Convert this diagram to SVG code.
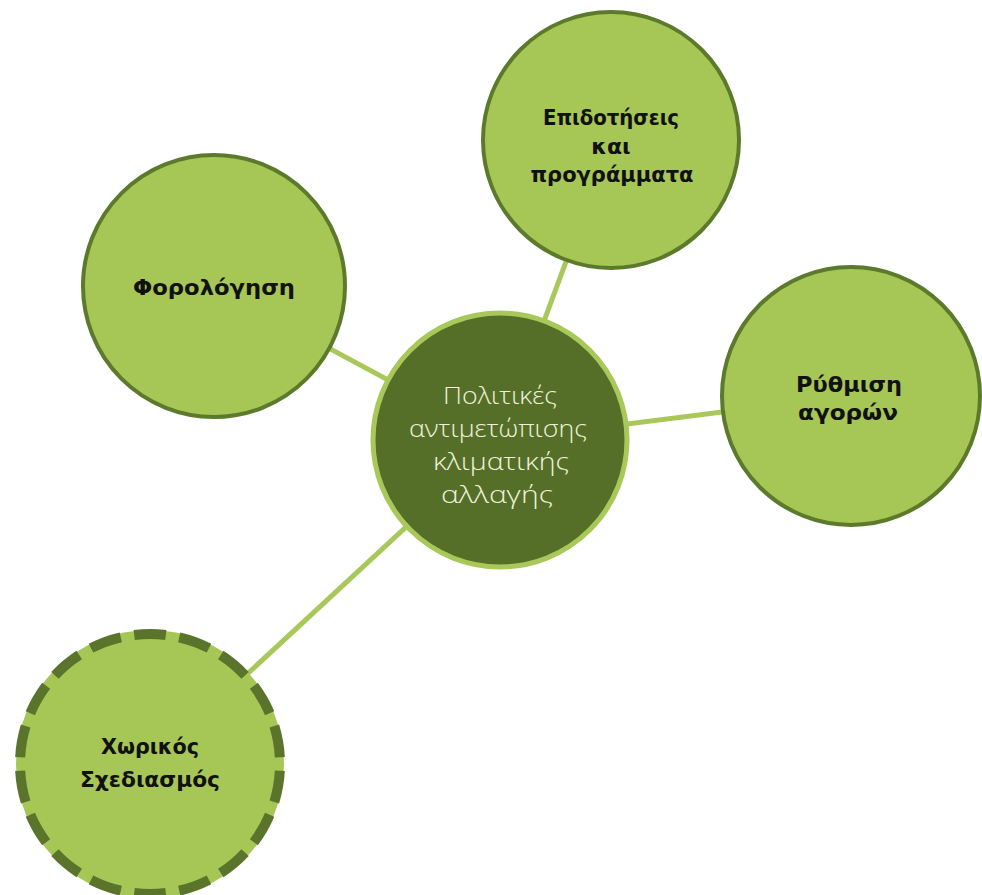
<svg xmlns="http://www.w3.org/2000/svg" width="982" height="895" viewBox="0 0 982 895">
  <style>
    .conn { stroke: #a8c85a; stroke-width: 5; fill: none; stroke-linecap: round; }
    .outer { fill: #a6c656; stroke: #5c7a2c; stroke-width: 4; }
    .center { fill: #566f28; stroke: #a8c85a; stroke-width: 5; }
    .dashfill { fill: #a6c656; }
    .dash { fill: none; stroke: #5a742c; stroke-width: 10; stroke-dasharray: 7 3; stroke-dashoffset: 8.5; }
    .lbl { font-family: "DejaVu Sans", "Liberation Sans", sans-serif; font-weight: bold; font-size: 22px; fill: #111; text-anchor: middle; }
    .clbl { font-family: "Open Sans", "Noto Sans", "DejaVu Sans", sans-serif; font-weight: 300; font-size: 24px; fill: #eef2dc; text-anchor: middle; }
  </style>
  <rect width="982" height="895" fill="#ffffff"/>
  <g id="connectors">
    <line class="conn" x1="500" y1="440" x2="611" y2="140"/>
    <line class="conn" x1="500" y1="440" x2="213" y2="286"/>
    <line class="conn" x1="500" y1="440" x2="850" y2="396"/>
    <line class="conn" x1="500" y1="440" x2="150" y2="764"/>
  </g>
  <g id="node-subsidies">
    <circle class="outer" cx="611" cy="140" r="128"/>
    <text class="lbl" x="611" y="125" textLength="136" lengthAdjust="spacingAndGlyphs">Επιδοτήσεις</text>
    <text class="lbl" x="611" y="153.5">και</text>
    <text class="lbl" x="612" y="182" textLength="163" lengthAdjust="spacingAndGlyphs">προγράμματα</text>
  </g>
  <g id="node-taxation">
    <circle class="outer" cx="214" cy="286" r="131"/>
    <text class="lbl" x="214" y="295" textLength="162" lengthAdjust="spacingAndGlyphs">Φορολόγηση</text>
  </g>
  <g id="node-market">
    <circle class="outer" cx="851" cy="396" r="129"/>
    <text class="lbl" x="849" y="392" textLength="106" lengthAdjust="spacingAndGlyphs">Ρύθμιση</text>
    <text class="lbl" x="848" y="420" textLength="100" lengthAdjust="spacingAndGlyphs">αγορών</text>
  </g>
  <g id="node-spatial">
    <circle class="dashfill" cx="150" cy="764" r="134"/>
    <circle class="dash" cx="150" cy="764" r="130" pathLength="180"/>
    <text class="lbl" x="150" y="754" textLength="98" lengthAdjust="spacingAndGlyphs">Χωρικός</text>
    <text class="lbl" x="150" y="787" textLength="140" lengthAdjust="spacingAndGlyphs">Σχεδιασμός</text>
  </g>
  <g id="node-center">
    <circle class="center" cx="500" cy="440" r="127"/>
    <text class="clbl" x="500" y="404" textLength="114" lengthAdjust="spacingAndGlyphs">Πολιτικές</text>
    <text class="clbl" x="498" y="437" textLength="178" lengthAdjust="spacingAndGlyphs">αντιμετώπισης</text>
    <text class="clbl" x="501" y="470" textLength="136" lengthAdjust="spacingAndGlyphs">κλιματικής</text>
    <text class="clbl" x="497" y="503" textLength="112" lengthAdjust="spacingAndGlyphs">αλλαγής</text>
  </g>
</svg>
